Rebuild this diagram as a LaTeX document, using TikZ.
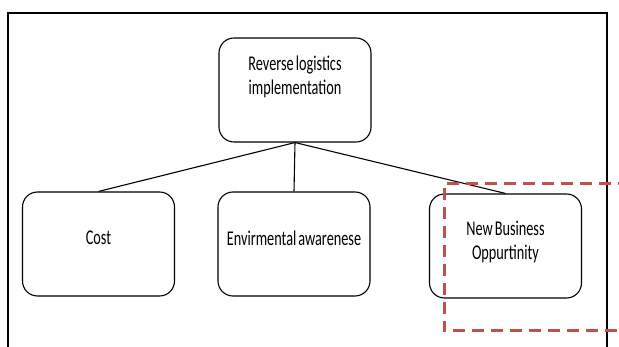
\documentclass[tikz,border=0pt]{standalone}
\usepackage{fontspec}
\setmainfont{Carlito}[FakeStretch=0.68,WordSpace=0.6]
\definecolor{dashred}{RGB}{192,80,77}
\tikzset{
  box/.style={draw,rounded corners=15pt,line width=1.1pt,minimum width=152pt,minimum height=104pt},
  txt/.style={align=center,font=\fontsize{21}{24}\selectfont}
}
\begin{document}
\begin{tikzpicture}[x=1pt,y=-1pt]
   \useasboundingbox (0,0) rectangle (619,347);

   % frame, open at the bottom
   \draw[line width=2pt] (8,13) -- (607,13);
   \draw[line width=1.3pt] (8,12) -- (8,350);
   \draw[line width=1.3pt] (607,12) -- (607,350);

   % top box
   \node[box] (rli) at (295,90) {};
   \node[txt] (rlitxt) at (295,77) {Reverse logistics\\implementation};

   % lower boxes
   \node[box] (cost) at (98.5,244) {};
   \node[txt] (costtxt) at (98.5,238) {Cost};
   \node[box] (env) at (294,244) {};
   \node[txt] (envtxt) at (294,238) {Envirmental awarenese};
   \node[box] (nbo) at (505.5,246) {};
   \node[txt] (nbotxt) at (505.5,242) {New Business\\Oppurtinity};

   \draw[line width=1.1pt] (rli.south) -- (cost.north);
   \draw[line width=1.1pt] (rli.south) -- (env.north);
   \draw[line width=1.1pt] (rli.south) -- (nbo.north);

   % highlight
   \draw[color=dashred,line width=3pt,dash pattern=on 12pt off 7pt]
      (630,184) -- (444,184) -- (444,331) -- (630,331);
\end{tikzpicture}
\end{document}
